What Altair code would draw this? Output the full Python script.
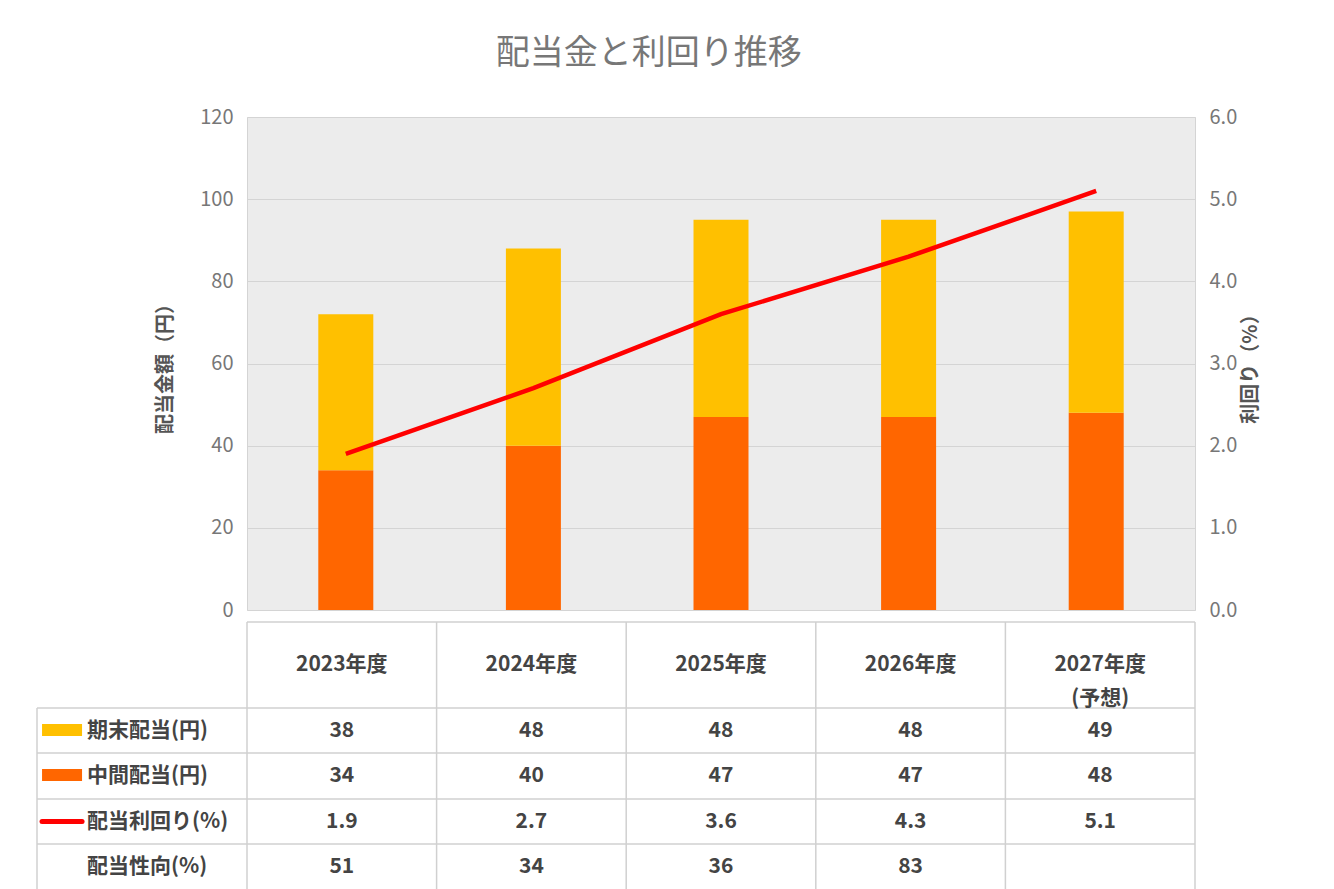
import pandas as pd
import altair as alt

FONT = "Noto Sans CJK JP"

years = ["2023年度", "2024年度", "2025年度", "2026年度", "2027年度\n(予想)"]
kimatsu = [38, 48, 48, 48, 49]
chukan = [34, 40, 47, 47, 48]
rimawari = [1.9, 2.7, 3.6, 4.3, 5.1]
seiko = ["51", "34", "36", "83", ""]
row_names = ["期末配当(円)", "中間配当(円)", "配当利回り(%)", "配当性向(%)"]

PW = 948   # plot width
PH = 493   # plot height
TH = 268   # table height
STEP = PW / 5
LEFT = -210 / STEP  # table extends left of plot
ROW_BOT = [86, 131, 177, 222, 268]

pos = [i + 0.5 for i in range(5)]

bars = pd.DataFrame({
    "x": pos * 2,
    "series": ["中間配当"] * 5 + ["期末配当"] * 5,
    "order": [0] * 5 + [1] * 5,
    "val": chukan + kimatsu,
})
line_df = pd.DataFrame({"x": pos, "y": rimawari})

xscale = alt.Scale(domain=[0, 5], nice=False)
xaxis = alt.Axis(labels=False, ticks=False, domain=False, grid=True,
                 values=[0, 1, 2, 3, 4, 5], gridColor="#d4d4d4", title=None)

bar = alt.Chart(bars).mark_bar(size=55).encode(
    x=alt.X("x:Q", scale=xscale, axis=xaxis),
    y=alt.Y("sum(val):Q", scale=alt.Scale(domain=[0, 120]),
            axis=alt.Axis(values=list(range(0, 121, 20)), title="配当金額（円）",
                          gridColor="#d4d4d4", domain=False, ticks=False,
                          labelPadding=14, titlePadding=24)),
    color=alt.Color("series:N", scale=alt.Scale(domain=["中間配当", "期末配当"],
                                                range=["#ff6600", "#ffc000"]), legend=None),
    order=alt.Order("order:Q"),
)
line = alt.Chart(line_df).mark_line(color="#ff0000", strokeWidth=4.5).encode(
    x=alt.X("x:Q", scale=xscale, axis=None),
    y=alt.Y("y:Q", scale=alt.Scale(domain=[0, 6]),
            axis=alt.Axis(values=[0, 1, 2, 3, 4, 5, 6], format=".1f", title="利回り（%）",
                          orient="right", grid=False, domain=False, ticks=False,
                          labelPadding=14, titlePadding=24, titleAngle=270)),
)
main = alt.layer(bar, line).resolve_scale(y="independent").properties(
    width=PW, height=PH, view=alt.ViewBackground(fill="#ececec", stroke="#d4d4d4"))

# table
cells = []
for i in range(5):
    cells.append({"x": pos[i], "y": 43, "t": years[i]})
    cells.append({"x": pos[i], "y": 108.5, "t": str(kimatsu[i])})
    cells.append({"x": pos[i], "y": 154, "t": str(chukan[i])})
    cells.append({"x": pos[i], "y": 199.5, "t": str(rimawari[i])})
    cells.append({"x": pos[i], "y": 245, "t": seiko[i]})
cells = pd.DataFrame(cells)
labels = pd.DataFrame({"x": [-0.844] * 4, "y": [108.5, 154, 199.5, 245], "t": row_names})

segs = [{"x": 0, "x2": 5, "y": 0, "y2": 0}]
for yv in ROW_BOT:
    segs.append({"x": LEFT, "x2": 5, "y": yv, "y2": yv})
segs.append({"x": LEFT, "x2": LEFT, "y": 86, "y2": TH})
for i in range(6):
    segs.append({"x": i, "x2": i, "y": 0, "y2": TH})
segs = pd.DataFrame(segs)

sym = pd.DataFrame({"x": [-1.081, -1.081], "x2": [-0.870, -0.870],
                    "y": [102, 147], "y2": [114, 159], "c": ["#ffc000", "#ff6600"]})
sline = pd.DataFrame({"x": [-1.081], "x2": [-0.870], "y": [199.5]})

tx = alt.Scale(domain=[0, 5], nice=False)
ty = alt.Scale(domain=[0, TH], reverse=True, nice=False)

t_rules = alt.Chart(segs).mark_rule(color="#d0d0d0", strokeWidth=1.5).encode(
    x=alt.X("x:Q", scale=tx, axis=None), x2="x2:Q",
    y=alt.Y("y:Q", scale=ty, axis=None), y2="y2:Q")
t_text = alt.Chart(cells).mark_text(fontSize=21, fontWeight="bold", color="#444444",
                                    font=FONT, lineBreak="\n", lineHeight=34).encode(
    x=alt.X("x:Q", scale=tx, axis=None), y=alt.Y("y:Q", scale=ty, axis=None), text="t:N")
t_lab = alt.Chart(labels).mark_text(fontSize=21, fontWeight="bold", color="#444444",
                                    font=FONT, align="left").encode(
    x=alt.X("x:Q", scale=tx, axis=None), y=alt.Y("y:Q", scale=ty, axis=None), text="t:N")
t_sym = alt.Chart(sym).mark_rect().encode(
    x=alt.X("x:Q", scale=tx, axis=None), x2="x2:Q",
    y=alt.Y("y:Q", scale=ty, axis=None), y2="y2:Q",
    color=alt.Color("c:N", scale=None))
t_line = alt.Chart(sline).mark_rule(color="#ff0000", strokeWidth=5, strokeCap="round").encode(
    x=alt.X("x:Q", scale=tx, axis=None), x2="x2:Q",
    y=alt.Y("y:Q", scale=ty, axis=None))
table = alt.layer(t_rules, t_sym, t_line, t_text, t_lab).properties(
    width=PW, height=TH, view=alt.ViewBackground(stroke=None))

chart = alt.vconcat(main, table, spacing=0).properties(
    title=alt.TitleParams("配当金と利回り推移", fontSize=34, fontWeight="normal",
                          color="#777777", font=FONT, offset=36, anchor="middle"),
    background="white",
    padding={"left": 28, "top": 28, "right": 5, "bottom": 5},
).configure_axis(
    labelFont=FONT, titleFont=FONT, labelFontSize=20, labelColor="#777777",
    titleFontSize=20, titleColor="#555555", titleFontWeight="bold",
)

chart.save("out.html", embed_options={"renderer": "svg", "actions": False})
